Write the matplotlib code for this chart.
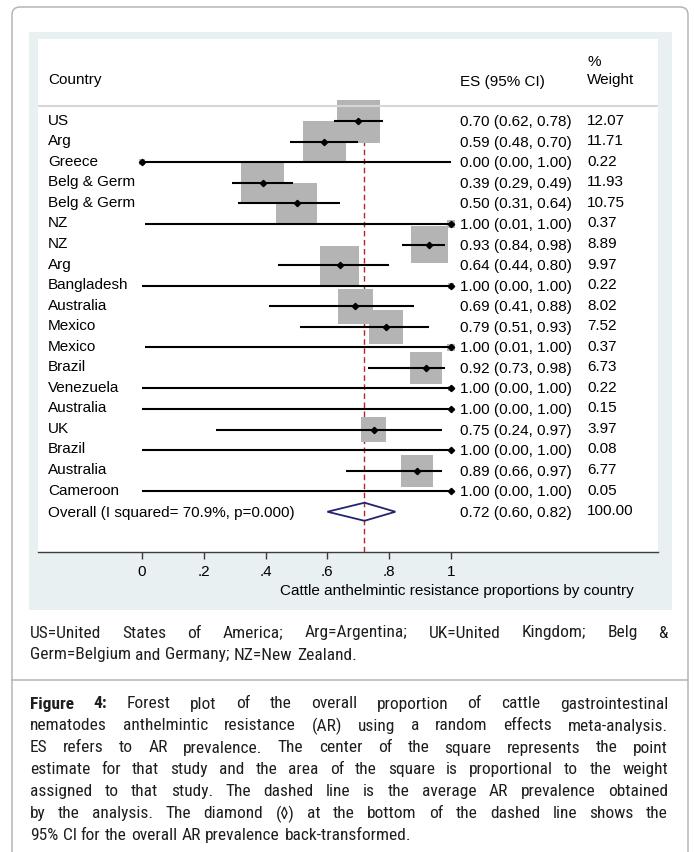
import matplotlib
matplotlib.use('Agg')
import matplotlib.pyplot as plt
from matplotlib import font_manager
from matplotlib.patches import FancyBboxPatch, Rectangle, Polygon

# ---------------------------------------------------------------------
# data

countries = ['US', 'Arg', 'Greece', 'Belg & Germ', 'Belg & Germ', 'NZ', 'NZ',
             'Arg', 'Bangladesh', 'Australia', 'Mexico', 'Mexico', 'Brazil',
             'Venezuela', 'Australia', 'UK', 'Brazil', 'Australia', 'Cameroon']
es = [0.70, 0.59, 0.00, 0.39, 0.50, 1.00, 0.93, 0.64, 1.00, 0.69,
      0.79, 1.00, 0.92, 1.00, 1.00, 0.75, 1.00, 0.89, 1.00]
ci_low = [0.62, 0.48, 0.00, 0.29, 0.31, 0.01, 0.84, 0.44, 0.00, 0.41,
          0.51, 0.01, 0.73, 0.00, 0.00, 0.24, 0.00, 0.66, 0.00]
ci_high = [0.78, 0.70, 1.00, 0.49, 0.64, 1.00, 0.98, 0.80, 1.00, 0.88,
           0.93, 1.00, 0.98, 1.00, 1.00, 0.97, 1.00, 0.97, 1.00]
weights = [12.07, 11.71, 0.22, 11.93, 10.75, 0.37, 8.89, 9.97, 0.22, 8.02,
           7.52, 0.37, 6.73, 0.22, 0.15, 3.97, 0.08, 6.77, 0.05]

overall_label = 'Overall (I squared= 70.9%, p=0.000)'
overall_es = 0.72
overall_low = 0.60
overall_high = 0.82
overall_weight = 100.00

x_ticks = [0, 0.2, 0.4, 0.6, 0.8, 1]
x_tick_labels = ['0', '.2', '.4', '.6', '.8', '1']
x_title = 'Cattle anthelmintic resistance proportions by country'

note_lines = ['US=United States of America; Arg=Argentina; UK=United Kingdom; Belg &',
              'Germ=Belgium and Germany; NZ=New Zealand.']
caption_lines = ['Figure 4: Forest plot of the overall proportion of cattle gastrointestinal',
                 'nematodes anthelmintic resistance (AR) using a random effects meta-analysis.',
                 'ES refers to AR prevalence. The center of the square represents the point',
                 'estimate for that study and the area of the square is proportional to the weight',
                 'assigned to that study. The dashed line is the average AR prevalence obtained',
                 'by the analysis. The diamond (\u25ca) at the bottom of the dashed line shows the',
                 '95% CI for the overall AR prevalence back-transformed.']

# ---------------------------------------------------------------------

W, H = 694, 853

names = {f.name for f in font_manager.fontManager.ttflist}
cap_font = ['Liberation Sans', 'DejaVu Sans']
cap_size = 11.0
for narrow in ['Liberation Sans Narrow', 'Roboto Condensed', 'Archivo Narrow', 'PT Sans Narrow']:
    if narrow in names:
        cap_font = [narrow, 'DejaVu Sans']
        cap_size = 12.5
        break

plt.rcParams['font.family'] = ['Liberation Sans', 'DejaVu Sans']

fig = plt.figure(figsize=(W / 100, H / 100), dpi=100)

# page background, drawn in pixel units
bg = fig.add_axes([0, 0, 1, 1])
bg.set_xlim(0, W)
bg.set_ylim(H, 0)
bg.axis('off')

bg.add_patch(FancyBboxPatch((12, 8), 676, 900,
                            boxstyle='round,pad=0,rounding_size=8',
                            fc='white', ec='#b5b5b5', lw=1.1))
bg.add_patch(Rectangle((29, 33), 643, 578, fc='#e8f0f2', ec='none'))
bg.plot([12, 688], [681, 681], color='#b5b5b5', lw=1.1)

# ---------------------------------------------------------------------
# forest plot

ax = fig.add_axes([38 / W, 1 - 553 / H, 620 / W, 513 / H])
ax.set_facecolor('white')

def px_x(px):
    return (px - 142) / 309

def px_row(py):
    return (py - 122.3) / 20.55

ax.set_xlim(px_x(38), px_x(658))
ax.set_ylim(px_row(553), px_row(40))

rows = list(range(len(countries)))
overall_row = len(countries)

ax.plot([overall_es, overall_es], [px_row(105), px_row(553)],
        color='#b5262b', lw=1.0, ls=(0, (4, 2.5)), zorder=1)

ax.scatter(es, rows, s=[w * 79.7 for w in weights], marker='s',
           color='#b4b4b4', lw=0, zorder=2, clip_on=False)
ax.hlines(rows, ci_low, ci_high, color='black', lw=1.5, zorder=3)
ax.plot(es, rows, 'D', ms=3.2, color='black', zorder=4, clip_on=False)

d = 0.44
ax.add_patch(Polygon([(overall_low, overall_row), (overall_es, overall_row - d),
                      (overall_high, overall_row), (overall_es, overall_row + d)],
                     closed=True, fill=False, ec='#24246e', lw=1.3, zorder=4))

ax.axhline(px_row(107), color='#d6d6d6', lw=1.5)

label_x = px_x(48)
es_x = px_x(460)
wt_x = px_x(587)

ax.text(label_x, px_row(80), 'Country', fontsize=11, va='center')
ax.text(es_x, px_row(82), 'ES (95% CI)', fontsize=11, va='center')
ax.text(wt_x, px_row(62), '%', fontsize=11, va='center')
ax.text(wt_x, px_row(80), 'Weight', fontsize=11, va='center')

for r in rows:
    ax.text(label_x, r - 0.08, countries[r], fontsize=11, va='center')
    ax.text(es_x, r, '%.2f (%.2f, %.2f)' % (es[r], ci_low[r], ci_high[r]),
            fontsize=11, va='center')
    ax.text(wt_x, r - 0.08, '%.2f' % weights[r], fontsize=11, va='center')

ax.text(label_x, overall_row, overall_label, fontsize=11, va='center')
ax.text(es_x, overall_row, '%.2f (%.2f, %.2f)' % (overall_es, overall_low, overall_high),
        fontsize=11, va='center')
ax.text(wt_x, overall_row - 0.08, '%.2f' % overall_weight, fontsize=11, va='center')

for side in ['top', 'left', 'right']:
    ax.spines[side].set_visible(False)
ax.spines['bottom'].set_color('#3c3c3c')
ax.spines['bottom'].set_linewidth(1.0)
ax.set_yticks([])
ax.set_xticks(x_ticks)
ax.set_xticklabels(x_tick_labels, fontsize=11)
ax.tick_params(axis='x', length=5, width=1.0, color='#3c3c3c', pad=3.5)

fig.text(634 / W, 1 - 591 / H, x_title, fontsize=11, ha='right', va='center')

# ---------------------------------------------------------------------
# justified caption text

renderer = fig.canvas.get_renderer()

def justify(words, y, left, right, bold_count=0, last=False):
    texts = []
    for i, word in enumerate(words):
        t = bg.text(0, y, word, fontsize=cap_size, family=cap_font,
                    fontweight='bold' if i < bold_count else 'normal',
                    va='center', ha='left', color='#1e1e1e')
        texts.append(t)
    widths = [t.get_window_extent(renderer).width for t in texts]
    if last:
        gap = cap_size * 100 / 72 * 0.25
    else:
        gap = (right - left - sum(widths)) / (len(words) - 1)
    x = left
    for t, wd in zip(texts, widths):
        t.set_x(x)
        x += wd + gap

for i, line in enumerate(note_lines):
    justify(line.split(' '), 633 + 22 * i, 30, 668, last=(i == len(note_lines) - 1))

for i, line in enumerate(caption_lines):
    justify(line.split(' '), 704 + 22 * i, 30, 668,
            bold_count=2 if i == 0 else 0, last=(i == len(caption_lines) - 1))

fig.savefig('out.png', dpi=100)
